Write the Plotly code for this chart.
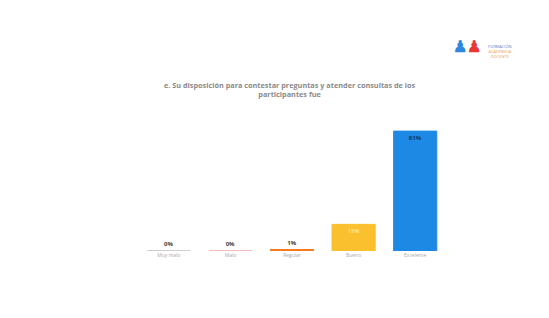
import plotly.graph_objects as go

categories = ["Muy malo", "Malo", "Regular", "Bueno", "Excelente"]
values = [0, 0, 1, 18, 81]
labels = ["<b>0%</b>", "<b>0%</b>", "<b>1%</b>", "18%", "<b>81%</b>"]
colors = ["#BDBDBD", "#F4A7A7", "#F47A20", "#FBC02D", "#1E88E5"]
title_lines = ["e. Su disposición para contestar preguntas y atender consultas de los",
               "participantes fue"]

fig = go.Figure()
fig.add_trace(go.Bar(
    x=categories, y=values,
    marker=dict(color=colors, line=dict(color=colors, width=1)),
    width=0.7,
    text=labels,
    textposition=["outside", "outside", "outside", "inside", "inside"],
    insidetextanchor="end",
    textfont=dict(family="Open Sans", size=6, color=["#444", "#444", "#444", "#FFF3C4", "#0D3B66"]),
    cliponaxis=False,
    hoverinfo="skip",
))

H = 148
fig.update_layout(
    width=549, height=318,
    margin=dict(l=130, r=111, t=95, b=75),
    paper_bgcolor="white", plot_bgcolor="white",
    showlegend=False,
    uniformtext=dict(minsize=5, mode="show"),
    xaxis=dict(showgrid=False, showline=False, zeroline=False, ticks="",
               tickfont=dict(family="Open Sans", size=5, color="#AAAAAA")),
    yaxis=dict(range=[0, 100], visible=False),
)
fig.add_annotation(text="<b>" + "<br>".join(title_lines) + "</b>",
                   x=(290 - 8 - 130) / 308, y=(243 - 93) / H, xref="paper", yref="paper",
                   showarrow=False, font=dict(family="Open Sans", size=7.3, color="#8A8A8A"),
                   xanchor="center", yanchor="bottom")
# logo approximation
fig.add_annotation(text="<span style='color:#5B7FC4'>FORMACIÓN</span><br><span style='color:#F39A3A'>ACADÉMICA</span><br><span style='color:#F39A3A'>DOCENTE</span>",
                   x=(499 + 15 - 8 - 130) / 308, y=(243 - (52 - 8 - 10)) / H, xref="paper", yref="paper",
                   showarrow=False, font=dict(size=4, family="Open Sans"), align="center")
fig.add_annotation(text="<b><span style='color:#2E86DE'>♟</span><span style='color:#E53935'>♟</span></b>",
                   x=(466 + 17 - 8 - 130) / 308, y=(243 - (45 - 8 - 12)) / H, xref="paper", yref="paper",
                   showarrow=False, font=dict(size=16))

fig.write_html("out.html")
